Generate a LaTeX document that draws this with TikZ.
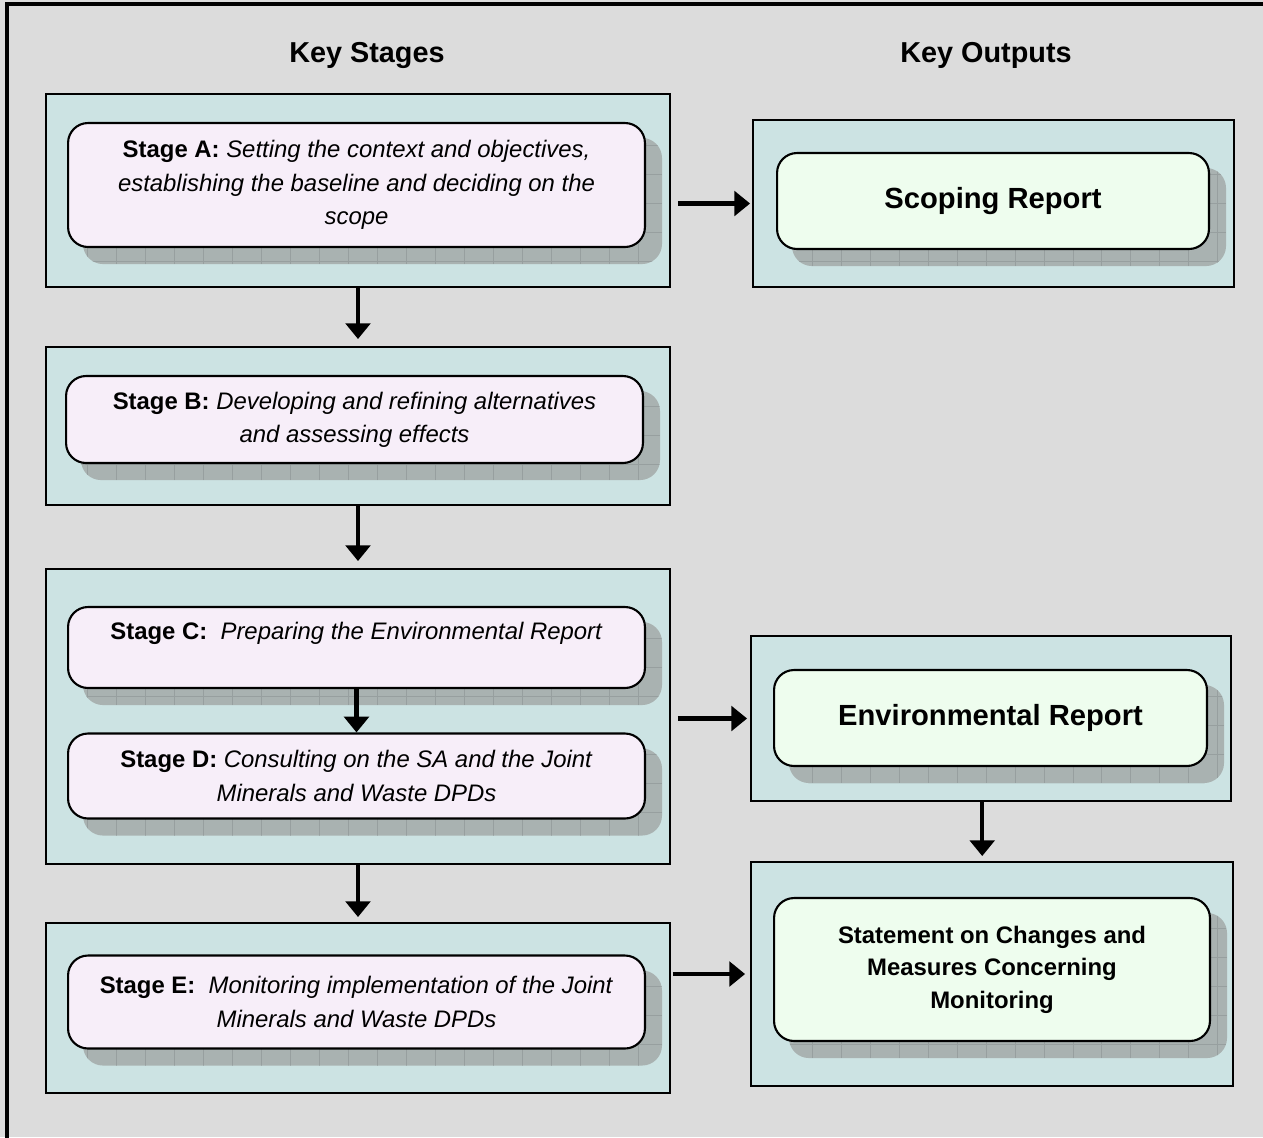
\documentclass[tikz,border=0pt]{standalone}
\usepackage{fontspec}
\setmainfont{Liberation Sans}
\usetikzlibrary{arrows.meta,positioning,calc}
\definecolor{pagegray}{HTML}{DCDCDC}
\definecolor{panelteal}{HTML}{CCE3E3}
\definecolor{stagepink}{HTML}{F7EEF9}
\definecolor{outputmint}{HTML}{EEFDEE}
\definecolor{shadegray}{HTML}{A9B2B1}
\definecolor{shadeline}{HTML}{979F9F}
\pgfdeclarelayer{back}
\pgfdeclarelayer{shade}
\pgfsetlayers{back,shade,main}
\tikzset{
  panel/.style={draw=black, line width=1.1pt, fill=panelteal, inner sep=0pt},
  stage/.style={draw=black, line width=1.2pt, fill=stagepink, rounded corners=0.4cm,
    align=center, inner sep=0pt, font=\fontsize{13.6}{19}\selectfont},
  output/.style={stage, fill=outputmint},
  shadebox/.style={fill=shadegray, rounded corners=0.4cm,
    path picture={\draw[shadeline, line width=0.35pt]
      (path picture bounding box.south west) grid[step=0.58cm]
      (path picture bounding box.north east);}},
  flow/.style={line width=2.3pt, -{Triangle[width=14pt,length=9pt]}},
  heading/.style={font=\fontsize{16.4}{20}\selectfont\bfseries},
}

\begin{document}
\begin{tikzpicture}[x=0.02cm, y=-0.02cm]
  \useasboundingbox (0,0) rectangle (1263,1137);
  \clip (0,0) rectangle (1263,1137);

  % page and frame
  \begin{pgfonlayer}{back}
    \fill[pagegray] (0,0) rectangle (1263,1137);
    \draw[line width=2pt] (7,1200) -- (7,4) -- (1300,4);
  \end{pgfonlayer}

  \node[heading] (stagesTitle) at (367,55) {Key Stages};
  \node[heading] (outputsTitle) at (986,55) {Key Outputs};

  % outer panels
  \begin{pgfonlayer}{back}
    \node[panel, minimum width=12.48cm, minimum height=3.86cm] (panelA) at (358,190.5) {};
    \node[panel, minimum width=12.48cm, minimum height=3.16cm] (panelB) at (358,426) {};
    \node[panel, minimum width=12.48cm, minimum height=5.9cm] (panelCD) at (358,716.5) {};
    \node[panel, minimum width=12.48cm, minimum height=3.4cm] (panelE) at (358,1008) {};
    \node[panel, minimum width=9.62cm, minimum height=3.34cm] (scopingPanel) at (993.5,203.5) {};
    \node[panel, minimum width=9.6cm, minimum height=3.3cm] (envPanel) at (991,718.5) {};
    \node[panel, minimum width=9.64cm, minimum height=4.48cm] (stmtPanel) at (992,974) {};
  \end{pgfonlayer}

  % stages
  \node[stage, minimum width=11.54cm, minimum height=2.48cm] (stageA) at (356.5,185)
    {\textbf{Stage A:} \textit{Setting the context and objectives,}\\
     \textit{establishing the baseline and deciding on the}\\
     \textit{scope}};
  \node[stage, minimum width=11.54cm, minimum height=1.74cm] (stageB) at (354.5,419.5)
    {\textbf{Stage B:} \textit{Developing and refining alternatives}\\
     \textit{and assessing effects}};
  \node[stage, minimum width=11.54cm, minimum height=1.62cm] (stageC) at (356.5,647.5)
    {\textbf{Stage C:}\ \ \textit{Preparing the Environmental Report}\\ \mbox{}};
  \node[stage, minimum width=11.54cm, minimum height=1.7cm] (stageD) at (356.5,776)
    {\textbf{Stage D:} \textit{Consulting on the SA and the Joint}\\
     \textit{Minerals and Waste DPDs}};
  \node[stage, minimum width=11.54cm, minimum height=1.86cm] (stageE) at (356.5,1002)
    {\textbf{Stage E:}\ \ \textit{Monitoring implementation of the Joint}\\
     \textit{Minerals and Waste DPDs}};

  % outputs
  \node[output, font=\fontsize{16.6}{20}\selectfont\bfseries,
    minimum width=8.64cm, minimum height=1.92cm] (scoping) at (993,201) {Scoping Report};
  \node[output, font=\fontsize{16.6}{20}\selectfont\bfseries,
    minimum width=8.66cm, minimum height=1.92cm] (envReport) at (990.5,718) {Environmental Report};
  \node[output, font=\fontsize{13.6}{18.5}\selectfont\bfseries,
    minimum width=8.72cm, minimum height=2.86cm] (statement) at (992,969.5)
    {Statement on Changes and\\ Measures Concerning\\ Monitoring};

  % shadows behind the rounded boxes
  \begin{pgfonlayer}{shade}
    \foreach \n in {stageA,stageB,stageC,stageD,stageE,scoping,envReport,statement}
      \fill[shadebox] ([shift={(16,16)}]\n.south west) rectangle ([shift={(16,16)}]\n.north east);
  \end{pgfonlayer}

  % connectors
  \draw[flow, shorten >=0.14cm] (panelA.south) -- (panelB.north);
  \draw[flow, shorten >=0.14cm] (panelB.south) -- (panelCD.north);
  \draw[flow] (stageC.south) -- (stageD.north);
  \draw[flow, shorten >=0.1cm] (panelCD.south) -- (panelE.north);
  \draw[flow, shorten <=0.14cm, shorten >=0.04cm] (panelA.east |- scopingPanel.center) -- (scopingPanel.west);
  \draw[flow, shorten <=0.14cm, shorten >=0.06cm] (panelCD.east |- envPanel.center) -- (envPanel.west);
  \draw[flow, shorten <=0.04cm, shorten >=0.1cm] (panelE.east |- stmtPanel.center) -- (stmtPanel.west);
  \draw[flow, shorten >=0.1cm] ([xshift=-5]envPanel.south) -- ([xshift=-5]envPanel.south |- stmtPanel.north);
\end{tikzpicture}
\end{document}
